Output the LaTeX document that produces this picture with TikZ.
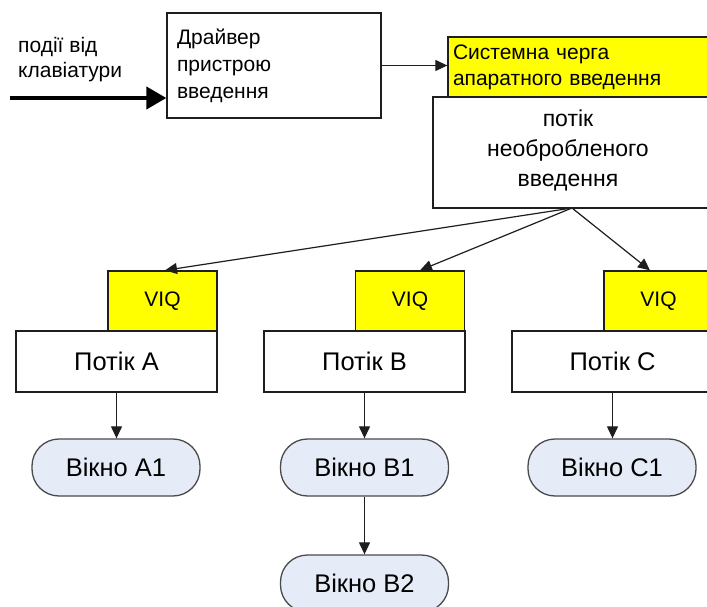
\documentclass[tikz,border=0pt]{standalone}
\usepackage{fontspec}
\setmainfont{Liberation Sans}
\usetikzlibrary{arrows.meta}

\definecolor{queueyellow}{HTML}{FFFF00}
\definecolor{winfill}{HTML}{E6ECF7}
\definecolor{winedge}{HTML}{4A4A4A}
\definecolor{edge}{HTML}{1E1E1E}

\begin{document}
\begin{tikzpicture}[x=1pt, y=-1pt,
  box/.style={draw=edge, line width=1.3pt, fill=white, rectangle, inner sep=0pt},
  queuebox/.style={box, fill=queueyellow},
  threadbox/.style={box, minimum width=201pt, minimum height=61pt,
    font=\fontsize{25.5}{28}\selectfont},
  viqbox/.style={queuebox, minimum width=109pt, minimum height=60pt,
    font=\fontsize{21}{26}\selectfont},
  winbox/.style={draw=winedge, line width=1.3pt, fill=winfill, rectangle,
    rounded corners=27pt, minimum width=168pt, minimum height=57pt, inner sep=0pt,
    font=\fontsize{25.5}{28}\selectfont},
  link/.style={draw=edge, line width=1.2pt, -{Triangle[length=12pt,width=11pt]}},
  bigarrow/.style={draw=black, line width=4pt, -{Triangle[length=20pt,width=22pt]}},
  label/.style={inner sep=0pt, align=left, font=\fontsize{21}{25}\selectfont}
]
\useasboundingbox (0,0) rectangle (707,607);
\fill[white] (0,0) rectangle (707,607);
\clip (0,0) rectangle (707,607);

% keyboard input and device driver
\node[label, anchor=west] (kbdtxt) at (18,59.5) {події від\\клавіатури};
\node[box, minimum width=214pt, minimum height=105pt, text width=194pt,
      inner xsep=10pt, align=left, font=\fontsize{21}{27}\selectfont]
      (drv) at (274,65.5) {Драйвер\\пристрою\\введення};
\coordinate (kbd) at (10,98);
\draw[bigarrow] (kbd) -- (kbd -| drv.west);

% system hardware input queue and raw input thread
\node[queuebox, minimum width=282pt, minimum height=60pt, text width=272pt,
      inner xsep=5pt, align=left, font=\fontsize{21}{26}\selectfont]
      (queue) at (589,67) {Системна черга\\апаратного введення};
\draw[link] (drv.east) -- (drv.east -| queue.west);

\node[box, minimum width=307pt, minimum height=111pt] (raw) at (586.5,152.5) {};
\node[inner sep=0pt, align=center, font=\fontsize{23}{30}\selectfont]
      (rawtxt) at (568,150) {потік\\необробленого\\введення};
\coordinate (fork) at (572,208);

% virtualized input queues
\node[viqbox] (viqA) at (162.5,301) {VIQ};
\node[viqbox] (viqB) at (410,301) {VIQ};
\node[viqbox] (viqC) at (658.5,301) {VIQ};

% threads
\node[threadbox] (thrA) at (116.5,361.5) {Потік A};
\node[threadbox] (thrB) at (364.5,361.5) {Потік B};
\node[threadbox] (thrC) at (612.5,361.5) {Потік C};

% windows
\node[winbox] (winA1) at (116,467.5) {Вікно A1};
\node[winbox] (winB1) at (364.5,467.5) {Вікно B1};
\node[winbox] (winC1) at (612,467.5) {Вікно C1};
\node[winbox] (winB2) at (364.5,583.5) {Вікно B2};

% connectors
\draw[link] (fork) -- ([xshift=2.5pt]viqA.north);
\draw[link] (fork) -- ([xshift=10pt]viqB.north);
\draw[link] (fork) -- ([xshift=-8.5pt]viqC.north);
\draw[link] (thrA.south) -- (thrA.south |- winA1.north);
\draw[link] (thrB.south) -- (thrB.south |- winB1.north);
\draw[link] (thrC.south) -- (thrC.south |- winC1.north);
\draw[link] (winB1.south) -- (winB2.north);
\end{tikzpicture}
\end{document}
